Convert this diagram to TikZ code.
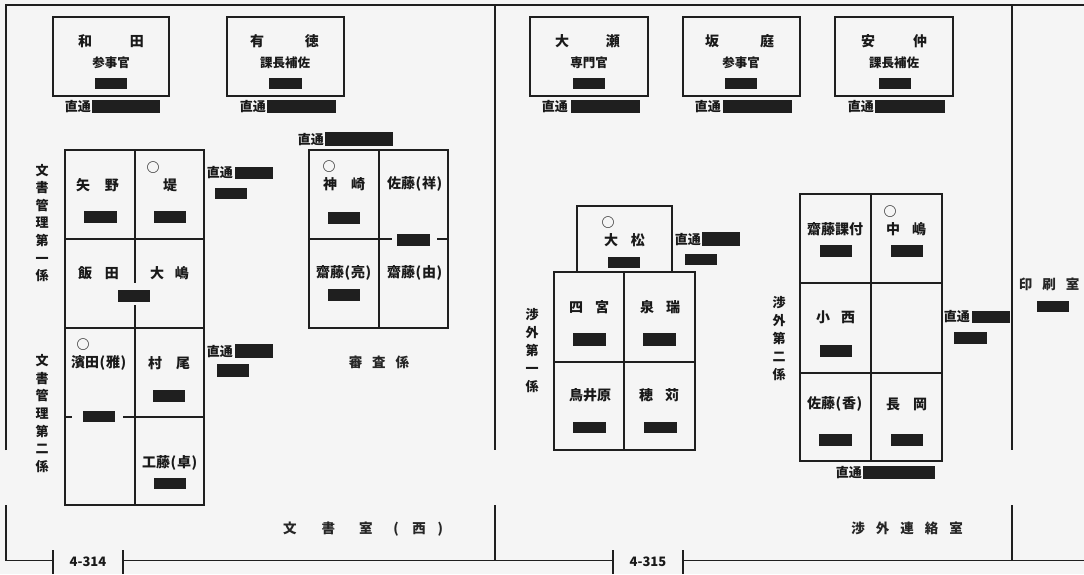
\documentclass[tikz,border=0pt]{standalone}
\usepackage{fontspec}
\setmainfont{Noto Sans CJK JP}
\newcommand\lp{\makebox[0.5em]{(}}
\newcommand\rp{\makebox[0.5em]{)}}
\newcommand\blk[4]{\fill[black!88] (#1,#2) rectangle (#3,#4);}
\begin{document}
\begin{tikzpicture}[x=1pt,y=-1pt,
 frame/.style={line width=1.7pt,draw=black!88},
 tick/.style={line width=1.3pt,draw=black!88},
 ln/.style={line width=1.15pt,draw=black!88},
 box/.style={draw=black!88,line width=1.15pt,inner sep=0pt},
 nm/.style={font=\fontsize{14}{14}\selectfont\bfseries,inner sep=0pt,text=black!90},
 ttl/.style={font=\fontsize{12.5}{12.5}\selectfont\bfseries,inner sep=0pt,text=black!90},
 tel/.style={font=\fontsize{13}{13}\selectfont\bfseries,inner sep=0pt,anchor=east,text=black!90},
 circ/.style={font=\fontsize{13}{13}\selectfont\bfseries,inner sep=0pt,text=black!90},
 vlab/.style={font=\fontsize{13}{17.6}\selectfont\bfseries,align=center,inner sep=0pt,text=black!90},
 room/.style={font=\fontsize{13.5}{13.5}\selectfont\bfseries,inner sep=0pt,text=black!85},
 pg/.style={font=\fontsize{13}{13}\selectfont\bfseries,inner sep=0pt,text=black!90}]

\useasboundingbox (0,0) rectangle (1084,574);
\fill[black!4] (0,0) rectangle (1084,574);

% ---------- frame ----------
\draw[frame] (6,450) -- (6,5) -- (1084,5);
\draw[frame] (6,505) -- (6,560.5) -- (53,560.5);
\draw[frame] (123,560.5) -- (613,560.5);
\draw[frame] (683,560.5) -- (1084,560.5);
\draw[tick] (53,550) -- (53,574) (123,550) -- (123,574) (613,550) -- (613,574) (683,550) -- (683,574);
\draw[frame] (495,5) -- (495,450) (495,505) -- (495,560.5);
\draw[frame] (1012,5) -- (1012,450) (1012,505) -- (1012,560.5);
\node[pg] (p314) at (88,562) {4-314};
\node[pg] (p315) at (648,562) {4-315};

% ---------- left page: top boxes ----------
\node[box,minimum width=116pt,minimum height=79pt] (wadaBox) at (111,56.5) {};
\node[nm] (wada) at (111,41) {和\hspace{38pt}田};
\node[ttl] (wadaT) at (111,63) {参事官};
\blk{95}{78}{127}{89}
\node[tel] (wadaTel) at (91,107) {直通};
\blk{92}{100}{160}{113}

\node[box,minimum width=117pt,minimum height=79pt] (aritokuBox) at (285.5,56.5) {};
\node[nm] (aritoku) at (284.5,41) {有\hspace{41pt}徳};
\node[ttl] (aritokuT) at (285,63) {課長補佐};
\blk{269}{78}{302}{89}
\node[tel] (aritokuTel) at (266,107) {直通};
\blk{267}{100}{336}{113}

\node[tel] (shinsaTel) at (324,140) {直通};
\blk{325}{132}{393}{146}

% ---------- 文書管理 grids ----------
\draw[ln] (65,150) rectangle (204,505);
\draw[ln] (65,239) -- (204,239);
\draw[line width=1.8pt,black!88] (65,328) -- (204,328);
\draw[ln] (135,150) -- (135,283) (135,305) -- (135,505);
\draw[ln] (65,417) -- (72,417) (123,417) -- (204,417);

\node[vlab] (bun1) at (42,223) {文\\書\\管\\理\\第\\一\\係};
\node[vlab] (bun2) at (42,413.5) {文\\書\\管\\理\\第\\二\\係};

\node[nm] (yano) at (97.5,185) {矢\hspace{15pt}野};
\blk{84}{211}{117}{223}
\node[circ] (tsutsumiC) at (153,168) {○};
\node[nm] (tsutsumi) at (170,185) {堤};
\blk{154}{211}{186}{223}
\node[nm] (iida) at (98.5,273) {飯\hspace{13pt}田};
\node[nm] (ooshima) at (169.5,273) {大\hspace{11pt}嶋};
\blk{118}{290}{150}{302}

\node[circ] (hamadaC) at (83,345) {○};
\node[nm] (hamada) at (99,363) {濱田\lp 雅\rp};
\node[nm] (murao) at (169,363) {村\hspace{14pt}尾};
\blk{153}{390}{185}{402}
\blk{83}{411}{115}{422}
\node[nm] (kudo) at (170,463) {工藤\lp 卓\rp};
\blk{154}{478}{186}{489}

\node[tel] (bun1Tel) at (233,173) {直通};
\blk{235}{167}{273}{179}
\blk{215}{188}{247}{199}
\node[tel] (bun2Tel) at (233,352) {直通};
\blk{235}{344}{273}{358}
\blk{217}{364}{249}{377}

% ---------- 審査係 ----------
\draw[ln] (309,150) rectangle (448,328);
\draw[ln] (379,150) -- (379,328);
\draw[ln] (309,239) -- (392,239) (437,239) -- (448,239);
\blk{397}{234}{430}{246}
\node[circ] (kanzakiC) at (329,167) {○};
\node[nm] (kanzaki) at (344,184) {神\hspace{14pt}崎};
\blk{328}{212}{360}{224}
\node[nm] (satoS) at (415,184) {佐藤\lp 祥\rp};
\node[nm] (saitoA) at (344,273) {齋藤\lp 亮\rp};
\blk{328}{289}{360}{301}
\node[nm] (saitoY) at (415,273) {齋藤\lp 由\rp};
\node[room] (shinsa) at (379,362) {審\hspace{10pt}査\hspace{10pt}係};
\node[room,anchor=west] (bunsho) at (283,529)
  {文\hspace{25pt}書\hspace{24pt}室\hspace{20pt}\lp\hspace{13pt}西\hspace{11pt}\rp};

% ---------- right page: top boxes ----------
\node[box,minimum width=118pt,minimum height=79pt] (oseBox) at (589,56.5) {};
\node[nm] (ose) at (587.5,41) {大\hspace{37pt}瀬};
\node[ttl] (oseT) at (589,63) {専門官};
\blk{573}{78}{605}{89}
\node[tel] (oseTel) at (568,107) {直通};
\blk{571}{100}{640}{113}

\node[box,minimum width=117pt,minimum height=79pt] (sakaniwaBox) at (741.5,56.5) {};
\node[nm] (sakaniwa) at (739.5,41) {坂\hspace{41pt}庭};
\node[ttl] (sakaniwaT) at (741,63) {参事官};
\blk{725}{78}{757}{89}
\node[tel] (sakaniwaTel) at (721,107) {直通};
\blk{723}{100}{792}{113}

\node[box,minimum width=118pt,minimum height=79pt] (annakaBox) at (894,56.5) {};
\node[nm] (annaka) at (894,41) {安\hspace{38pt}仲};
\node[ttl] (annakaT) at (894,63) {課長補佐};
\blk{879}{78}{911}{89}
\node[tel] (annakaTel) at (874,107) {直通};
\blk{875}{100}{945}{113}

% ---------- 渉外第一係 ----------
\draw[ln] (577,272) -- (577,206) -- (672,206) -- (672,272);
\draw[ln] (554,272) rectangle (695,450);
\draw[ln] (624,272) -- (624,450);
\draw[ln] (554,362) -- (695,362);
\node[circ] (omatsuC) at (608,223) {○};
\node[nm] (omatsu) at (624.5,240) {大\hspace{13pt}松};
\blk{608}{257}{640}{268}
\node[tel] (omatsuTel) at (701,240) {直通};
\blk{702}{232}{740}{246}
\blk{685}{254}{717}{265}

\node[vlab,font=\fontsize{13}{18}\selectfont\bfseries] (sho1) at (532,351) {渉\\外\\第\\一\\係};
\node[nm] (shinomiya) at (589,307) {四\hspace{12pt}宮};
\node[nm] (izumi) at (660,307) {泉\hspace{12pt}瑞};
\blk{573}{333}{606}{346}
\blk{643}{333}{676}{346}
\node[nm] (toriihara) at (590,395) {鳥井原};
\node[nm] (hokari) at (659,395) {穂\hspace{12pt}苅};
\blk{573}{422}{606}{433}
\blk{644}{422}{677}{433}

% ---------- 渉外第二係 ----------
\draw[ln] (800,194) rectangle (942,461);
\draw[ln] (871,194) -- (871,461);
\draw[ln] (800,283) -- (942,283) (800,373) -- (942,373);
\node[vlab,font=\fontsize{13}{18}\selectfont\bfseries] (sho2) at (779,339) {渉\\外\\第\\二\\係};
\node[nm] (saitoK) at (835,229) {齋藤課付};
\blk{820}{245}{852}{257}
\node[circ] (nakajimaC) at (890,212) {○};
\node[nm] (nakajima) at (906,229) {中\hspace{12pt}嶋};
\blk{891}{245}{923}{257}
\node[nm] (konishi) at (835.5,317) {小\hspace{11pt}西};
\blk{820}{345}{852}{357}
\node[nm] (satoK) at (835,404) {佐藤\lp 香\rp};
\node[nm] (nagaoka) at (906.5,404) {長\hspace{13pt}岡};
\blk{819}{434}{852}{446}
\blk{891}{434}{923}{446}
\node[tel] (sho2TelB) at (862,473) {直通};
\blk{863}{466}{935}{479}
\node[tel] (sho2Tel) at (970,317) {直通};
\blk{972}{311}{1010}{323}
\blk{954}{332}{987}{344}

\node[room] (renraku) at (907,528) {渉\hspace{11pt}外\hspace{11pt}連\hspace{11pt}絡\hspace{11pt}室};
\node[room] (insatsu) at (1049,284) {印\hspace{10pt}刷\hspace{10pt}室};
\blk{1037}{301}{1069}{312}
\end{tikzpicture}
\end{document}
